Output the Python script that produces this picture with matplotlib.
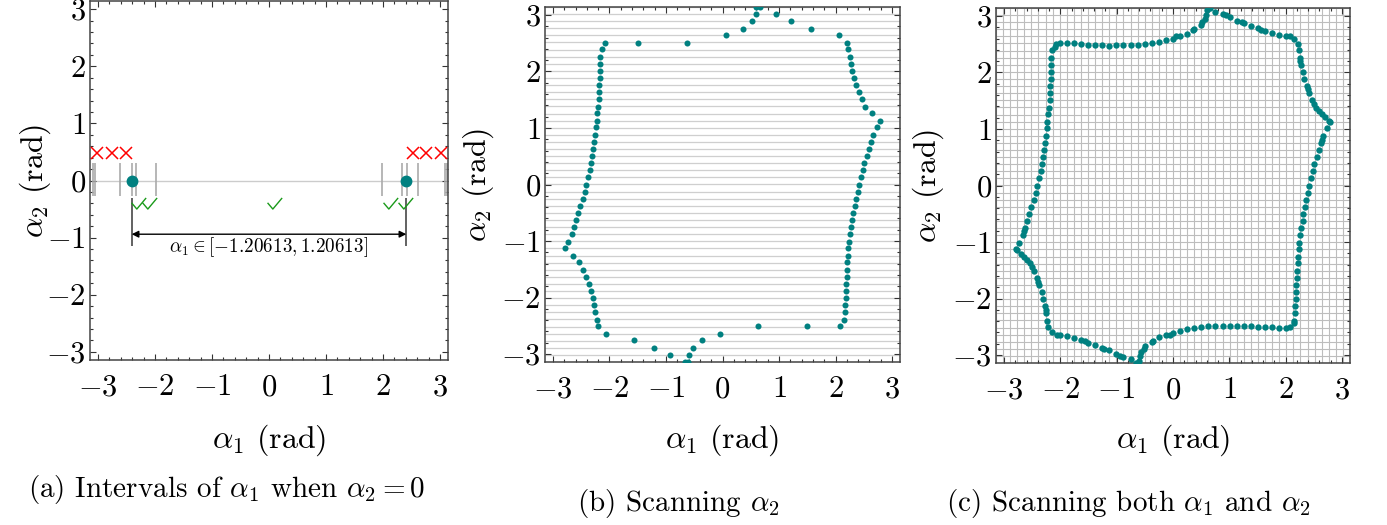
import numpy as np
import matplotlib.pyplot as plt
from matplotlib.path import Path
from matplotlib.ticker import AutoMinorLocator

plt.rcParams['font.family'] = 'cmr10'
plt.rcParams['mathtext.fontset'] = 'cm'
plt.rcParams['axes.formatter.use_mathtext'] = True

TEAL = '#008080'

# --- (a) intervals of alpha1 when alpha2 = 0 ---
a_edges = [-3.09, -3.05, -2.61, -2.41, -2.33, -1.98, 1.99, 2.33, 2.42, 2.62, 3.09, 3.12]
a_roots = [-2.41, 2.41]
a_cross_x = [-3.02, -2.76, -2.51, 2.52, 2.76, 3.02]
a_cross_y = [0.48, 0.48, 0.48, 0.48, 0.48, 0.48]
a_check_x = [-2.30, -2.10, 0.08, 2.12, 2.38]
a_check_y = [-0.39, -0.39, -0.39, -0.39, -0.39]
a_interval_text = r'$\alpha_1 \in [-1.20613, 1.20613]$'

# --- (b) scanning alpha2: alpha1 hits on every alpha2 row ---
b_rows = [3.14, 3.02, 2.89, 2.76, 2.64, 2.51, 2.39, 2.26, 2.14, 2.01, 1.88, 1.76, 1.63,
          1.51, 1.38, 1.26, 1.13, 1.01, 0.88, 0.75, 0.63, 0.50, 0.38, 0.25, 0.13, 0.00,
          -0.13, -0.25, -0.38, -0.50, -0.63, -0.75, -0.88, -1.01, -1.13, -1.26, -1.38,
          -1.51, -1.63, -1.76, -1.88, -2.01, -2.14, -2.26, -2.39, -2.51, -2.64, -2.76,
          -2.89, -3.02, -3.14]
b_hits = [[0.60, 0.66], [0.59, 0.94], [0.52, 1.22], [0.36, 1.57], [0.06, 2.07],
          [-2.08, -1.49, -0.62, 2.21], [-2.14, 2.23], [-2.16, 2.25], [-2.16, 2.27],
          [-2.17, 2.30], [-2.17, 2.33], [-2.18, 2.37], [-2.19, 2.41], [-2.19, 2.47],
          [-2.20, 2.53], [-2.22, 2.64], [-2.23, 2.78], [-2.24, 2.73], [-2.25, 2.67],
          [-2.27, 2.63], [-2.29, 2.59], [-2.31, 2.55], [-2.33, 2.51], [-2.35, 2.48],
          [-2.38, 2.45], [-2.41, 2.42], [-2.44, 2.39], [-2.47, 2.36], [-2.52, 2.34],
          [-2.55, 2.31], [-2.59, 2.30], [-2.63, 2.28], [-2.67, 2.26], [-2.73, 2.24],
          [-2.79, 2.23], [-2.65, 2.22], [-2.54, 2.21], [-2.47, 2.20], [-2.41, 2.20],
          [-2.37, 2.19], [-2.33, 2.19], [-2.30, 2.18], [-2.27, 2.17], [-2.25, 2.17],
          [-2.23, 2.15], [-2.21, 0.62, 1.49, 2.08], [-2.06, -0.05], [-1.57, -0.36],
          [-1.22, -0.52], [-0.93, -0.59], [-0.66, -0.61]]

# --- (c) scanning both alpha1 and alpha2 (boundary points, in contour order) ---
c_alpha1 = [-2.08, -2.01, -1.88, -1.76, -1.63, -1.51, -1.38, -1.26, -1.13, -1.01, -0.88,
            -0.75, -0.63, -0.50, -0.38, -0.25, -0.13, 0.00, 0.06, 0.13, 0.25, 0.36, 0.38,
            0.50, 0.52, 0.57, 0.59, 0.60, 0.66, 0.75, 0.88, 0.94, 1.01, 1.13, 1.22, 1.26,
            1.38, 1.51, 1.57, 1.63, 1.76, 1.88, 2.01, 2.07, 2.14,
            2.21, 2.23, 2.25, 2.26, 2.27, 2.30, 2.33, 2.37, 2.39, 2.41, 2.47, 2.51, 2.53,
            2.59, 2.64, 2.70, 2.76, 2.78, 2.73, 2.67, 2.64, 2.63, 2.59, 2.55, 2.51, 2.48,
            2.45, 2.42, 2.39, 2.36, 2.34, 2.31, 2.30, 2.28, 2.26, 2.24, 2.23, 2.22, 2.21,
            2.20, 2.20, 2.19, 2.19, 2.18, 2.17, 2.17, 2.15, 2.14, 2.08,
            2.01, 1.88, 1.76, 1.63, 1.51, 1.38, 1.26, 1.13, 1.01, 0.88, 0.75, 0.63, 0.50,
            0.38, 0.25, 0.13, 0.00, -0.05, -0.13, -0.25, -0.36, -0.38, -0.50, -0.52,
            -0.57, -0.59, -0.61, -0.66, -0.75, -0.88, -0.94, -1.01, -1.13, -1.22, -1.26,
            -1.38, -1.51, -1.57, -1.63, -1.76, -1.88, -2.01, -2.06, -2.14,
            -2.21, -2.23, -2.25, -2.26, -2.27, -2.30, -2.33, -2.37, -2.39, -2.41, -2.47,
            -2.51, -2.54, -2.59, -2.65, -2.70, -2.76, -2.79, -2.73, -2.67, -2.64, -2.63,
            -2.59, -2.55, -2.52, -2.47, -2.44, -2.41, -2.38, -2.35, -2.33, -2.31, -2.29,
            -2.27, -2.25, -2.24, -2.23, -2.22, -2.20, -2.19, -2.19, -2.18, -2.17, -2.17,
            -2.16, -2.16, -2.14, -2.10]
c_alpha2 = [2.51, 2.53, 2.53, 2.52, 2.50, 2.49, 2.48, 2.48, 2.47, 2.48, 2.48,
            2.48, 2.49, 2.51, 2.52, 2.54, 2.57, 2.60, 2.64, 2.65, 2.69, 2.76, 2.77,
            2.84, 2.89, 2.95, 3.02, 3.10, 3.14, 3.07, 3.03, 3.02, 2.98, 2.92, 2.89, 2.87,
            2.82, 2.78, 2.76, 2.73, 2.70, 2.67, 2.65, 2.64, 2.60,
            2.51, 2.39, 2.26, 2.20, 2.14, 2.01, 1.88, 1.76, 1.70, 1.63, 1.51, 1.45, 1.38,
            1.31, 1.26, 1.21, 1.15, 1.13, 1.01, 0.88, 0.80, 0.75, 0.63, 0.50, 0.38, 0.25,
            0.13, 0.00, -0.13, -0.25, -0.38, -0.50, -0.63, -0.75, -0.88, -1.01, -1.13,
            -1.26, -1.38, -1.51, -1.63, -1.76, -1.88, -2.01, -2.14, -2.26, -2.39, -2.44,
            -2.51,
            -2.52, -2.52, -2.51, -2.51, -2.50, -2.49, -2.48, -2.48, -2.48, -2.48, -2.48,
            -2.49, -2.50, -2.52, -2.54, -2.58, -2.61, -2.64, -2.65, -2.69, -2.76, -2.77,
            -2.84, -2.89, -2.95, -3.02, -3.10, -3.14, -3.07, -3.03, -3.02, -2.98, -2.92,
            -2.89, -2.87, -2.82, -2.78, -2.76, -2.73, -2.70, -2.67, -2.65, -2.64, -2.60,
            -2.51, -2.39, -2.26, -2.20, -2.14, -2.01, -1.88, -1.76, -1.70, -1.63, -1.51,
            -1.45, -1.38, -1.31, -1.26, -1.21, -1.15, -1.13, -1.01, -0.88, -0.80, -0.75,
            -0.63, -0.50, -0.38, -0.25, -0.13, 0.00, 0.13, 0.25, 0.38, 0.50, 0.63, 0.75,
            0.88, 1.01, 1.13, 1.26, 1.38, 1.51, 1.63, 1.76, 1.88, 2.01, 2.14, 2.26, 2.39,
            2.46]

captions = [r'(a) Intervals of $\alpha_1$ when $\alpha_2 = 0$',
            r'(b) Scanning $\alpha_2$',
            r'(c) Scanning both $\alpha_1$ and $\alpha_2$']
caption_pos = [(227, 490), (678, 503), (1128, 503)]

# scan grid used in (b) and (c)
scan_grid = np.linspace(-np.pi, np.pi, 51)

# thin open check mark
check_marker = Path([(-0.5, 0.05), (-0.12, -0.4), (0.55, 0.4)],
                    [Path.MOVETO, Path.LINETO, Path.LINETO])

W, H = 1387, 525
fig = plt.figure(figsize=(W / 100, H / 100), dpi=100)
boxes = [(90, 1, 448, 360), (545, 7, 900, 362), (996, 8, 1350, 363)]
axes = []
for (l, t, r, b) in boxes:
    axes.append(fig.add_axes([l / W, 1 - b / H, (r - l) / W, (b - t) / H]))

for ax in axes:
    ax.set_xlim(-np.pi, np.pi)
    ax.set_ylim(-np.pi, np.pi)
    ax.set_xticks(range(-3, 4))
    ax.set_yticks(range(-3, 4))
    ax.xaxis.set_minor_locator(AutoMinorLocator(5))
    ax.yaxis.set_minor_locator(AutoMinorLocator(5))
    ax.tick_params(which='both', direction='in', top=True, right=True,
                   color='#333333', width=0.8, labelsize=22)
    ax.tick_params(which='major', length=4)
    ax.tick_params(which='minor', length=2)
    ax.tick_params(axis='x', pad=10)
    ax.tick_params(axis='y', pad=3)
    for s in ax.spines.values():
        s.set_color('#444444')
        s.set_linewidth(1.1)
    ax.set_xlabel(r'$\alpha_1$ (rad)', fontsize=23, va='center')
    ax.set_ylabel(r'$\alpha_2$ (rad)', fontsize=23, va='center')

axes[0].xaxis.set_label_coords(0.5, -0.223)
axes[0].yaxis.set_label_coords(-0.154, 0.5)
axes[1].xaxis.set_label_coords(0.5, -0.220)
axes[1].yaxis.set_label_coords(-0.189, 0.5)
axes[2].xaxis.set_label_coords(0.5, -0.217)
axes[2].yaxis.set_label_coords(-0.192, 0.5)

# (a)
ax = axes[0]
ax.axhline(0, color='#cccccc', lw=1, zorder=1)
ax.vlines(a_edges, -0.28, 0.30, color='#aaaaaa', lw=1.2, zorder=2)
ax.vlines(a_roots, -1.15, -0.30, color='#555555', lw=1.3, zorder=2)
ax.plot(a_roots, [0, 0], 'o', color=TEAL, ms=7.5, zorder=3)
ax.plot(a_cross_x, a_cross_y, 'x', color='red', ms=8.5, mew=1.1, zorder=3, clip_on=False)
ax.plot(a_check_x, a_check_y, ls='', marker=check_marker, ms=11, mew=1.0,
        color='#1a9a1a', mfc='none', zorder=3)
ax.annotate('', xy=(a_roots[1], -0.94), xytext=(a_roots[0], -0.94),
            arrowprops=dict(arrowstyle='<|-|>', color='black', lw=1,
                            shrinkA=0, shrinkB=0, mutation_scale=10))
ax.text(0, -1.16, a_interval_text, fontsize=13.8, ha='center', va='center')

# (b)
ax = axes[1]
for g in scan_grid:
    ax.axhline(g, color='#cfcfcf', lw=0.9, zorder=0)
b_x = [x for hits in b_hits for x in hits]
b_y = [y for y, hits in zip(b_rows, b_hits) for _ in hits]
ax.scatter(b_x, b_y, s=19, color=TEAL, zorder=3, linewidths=0)

# (c)
ax = axes[2]
for g in scan_grid:
    ax.axhline(g, color='#bdbdbd', lw=0.8, zorder=0)
    ax.axvline(g, color='#bdbdbd', lw=0.8, zorder=0)
ax.scatter(c_alpha1, c_alpha2, s=21, color=TEAL, zorder=3, linewidths=0)

for txt, (cx, cy) in zip(captions, caption_pos):
    fig.text(cx / W, 1 - cy / H, txt, fontsize=21, ha='center', va='center')

fig.savefig('out.png', dpi=100)
